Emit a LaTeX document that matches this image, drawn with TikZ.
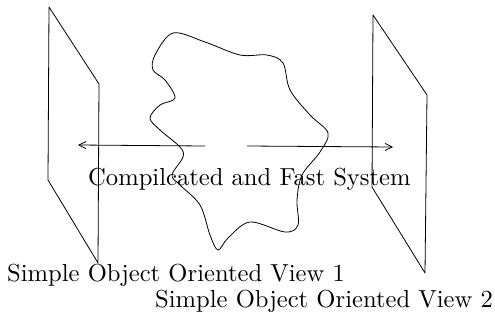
\documentclass[tikz,border=0pt]{standalone}
\usetikzlibrary{arrows.meta}
\begin{document}
\begin{tikzpicture}[x=1pt,y=-1pt,
  edge/.style={line width=0.8pt,line join=round},
  arr/.style={line width=0.8pt,-{Straight Barb[length=7pt,width=7pt,line width=0.8pt]}},
  lbl/.style={inner sep=0pt,anchor=base west}]
\useasboundingbox (0,0) rectangle (495,322);
% planes
\coordinate (l1) at (49,7);
\coordinate (l2) at (99,84);
\coordinate (l3) at (98,263);
\coordinate (l4) at (48,180);
\coordinate (r1) at (373,15);
\coordinate (r2) at (427,95);
\coordinate (r3) at (425,273);
\coordinate (r4) at (372,187);
\draw[edge] (l1) -- (l2) -- (l3) -- (l4) -- cycle;
\draw[edge] (r1) -- (r2) -- (r3) -- (r4) -- cycle;
% blob
\draw[edge] plot[smooth cycle,tension=0.55] coordinates {
 (173,33) (205,42) (240,55) (267,55) (283,63) (290,90) (310,115) (328,133)
 (320,152) (302,175) (297,200) (298,225) (285,232) (250,222) (228,238)
 (218,250) (210,235) (200,205) (180,185) (172,175) (183,157) (180,147)
 (160,130) (150,118) (160,105) (175,98) (165,80) (153,70) (155,55)};
% arrows
\coordinate (a1) at (205,146);
\coordinate (t1) at (78,145);
\coordinate (a2) at (247,146);
\coordinate (t2) at (393,147);
\draw[arr] (a1) -- (t1);
\draw[arr] (a2) -- (t2);
% labels
\node[lbl] (sys) at (88,185) {\scalebox{2.46}{Compilcated and Fast System}};
\node[lbl] (v1) at (7,281) {\scalebox{2.46}{Simple Object Oriented View 1}};
\node[lbl] (v2) at (155,307) {\scalebox{2.46}{Simple Object Oriented View 2}};
\end{tikzpicture}
\end{document}
